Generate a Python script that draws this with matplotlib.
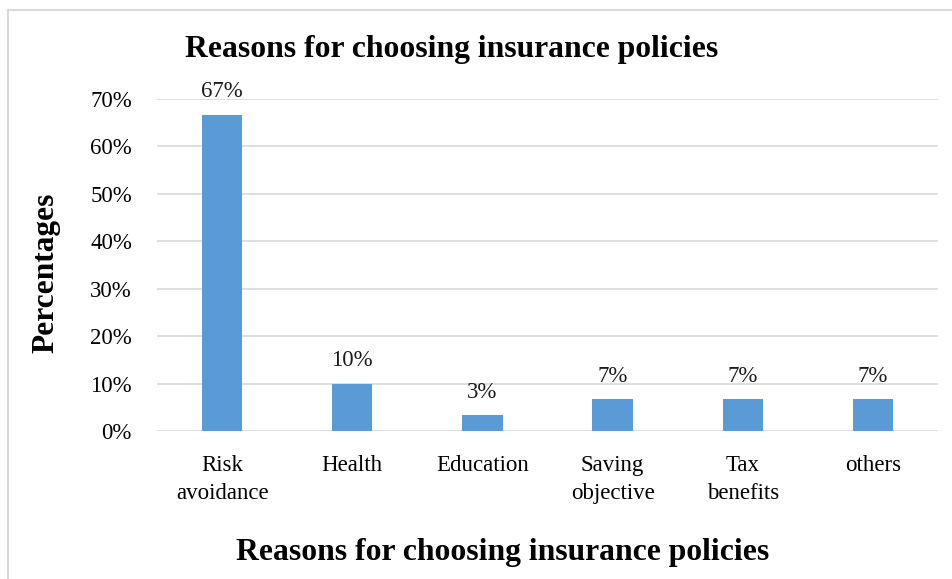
import matplotlib.pyplot as plt
from matplotlib.lines import Line2D
from matplotlib.ticker import PercentFormatter

categories = ["Risk\navoidance", "Health", "Education", "Saving\nobjective", "Tax\nbenefits", "others"]
values = [66.7, 10.0, 3.3, 6.7, 6.7, 6.7]
labels = ["67%", "10%", "3%", "7%", "7%", "7%"]

plt.rcParams['font.family'] = ['Liberation Serif', 'DejaVu Serif']

W, H = 952, 579
fig = plt.figure(figsize=(W / 100, H / 100), dpi=100)
fig.patch.set_facecolor('white')

# outer frame of the chart (cut off at right and bottom)
fig.add_artist(Line2D([8 / W, 8 / W], [-0.1, 1 - 10 / H], transform=fig.transFigure,
                      color='#d9d9d9', lw=1.5))
fig.add_artist(Line2D([8 / W, 1.1], [1 - 10 / H, 1 - 10 / H], transform=fig.transFigure,
                      color='#d9d9d9', lw=1.5))

ax = fig.add_axes([157 / W, 1 - 431 / H, (938 - 157) / W, (431 - 99) / H])
x = list(range(len(categories)))
ax.bar(x, values, width=0.31, color='#5b9bd5', zorder=3)
for xi, v, lab in zip(x, values, labels):
    ax.annotate(lab, (xi, v), xytext=(0, 9), textcoords='offset points',
                ha='center', va='bottom', fontsize=16.5, color='#1a1a1a')

ax.set_xlim(-0.5, len(categories) - 0.5)
ax.set_ylim(0, 70)
ax.set_yticks(range(0, 71, 10))
ax.yaxis.set_major_formatter(PercentFormatter(decimals=0))
ax.set_xticks(x)
ax.set_xticklabels(categories, fontsize=16.5, linespacing=1.45)
ax.tick_params(axis='y', labelsize=16.5, length=0, pad=18)
ax.tick_params(axis='x', length=0, pad=17)
ax.grid(axis='y', color='#d9d9d9', lw=1.2, zorder=0)
for s in ax.spines.values():
    s.set_visible(False)

fig.text(452 / W, 1 - 57 / H, "Reasons for choosing insurance policies",
         ha='center', va='baseline', fontsize=22.8, fontweight='bold')
fig.text(503 / W, 1 - 560 / H, "Reasons for choosing insurance policies",
         ha='center', va='baseline', fontsize=22.8, fontweight='bold')
fig.text(46 / W, 1 - 273 / H, "Percentages", rotation=90,
         ha='center', va='center', fontsize=22.6, fontweight='bold')

fig.savefig("out.png", dpi=100)
